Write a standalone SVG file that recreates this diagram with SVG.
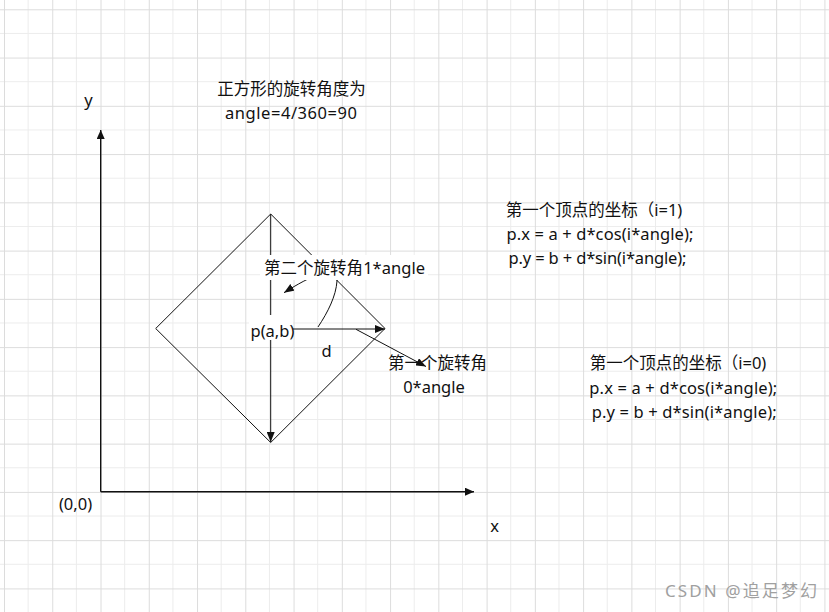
<svg xmlns="http://www.w3.org/2000/svg" width="829" height="612" viewBox="0 0 829 612">
  <style>
    .t { font-family: "Noto Sans", "Noto Sans CJK SC", sans-serif; font-size: 16.5px; fill: #111; }
    .c { text-anchor: middle; }
    .ln { stroke: #111; stroke-width: 1; fill: none; }
    .ax { stroke: #111; stroke-width: 1.4; fill: none; }
    .wm { font-family: "Noto Sans", "Noto Sans CJK SC", sans-serif; font-size: 17px; fill: #a0a0a0; }
  </style>
  <defs>
    <pattern id="grid" patternUnits="userSpaceOnUse" x="4" y="9.3" width="48.26" height="48.26">
      <path d="M24.13,0 V48.26 M0,24.13 H48.26" stroke="#ececec" stroke-width="1" fill="none"/>
      <path d="M0.5,0 V48.26 M0,0.5 H48.26" stroke="#dcdcdc" stroke-width="1" fill="none"/>
    </pattern>
    <marker id="arr" viewBox="0 0 10 8" refX="10" refY="4" markerWidth="10" markerHeight="8" orient="auto" markerUnits="userSpaceOnUse">
      <path d="M0,0 L10,4 L0,8 z" fill="#111"/>
    </marker>
    <marker id="arrA" viewBox="0 0 9 8" refX="9" refY="4" markerWidth="9" markerHeight="8" orient="auto" markerUnits="userSpaceOnUse">
      <path d="M0,0 L9,4 L0,8 z" fill="#111"/>
    </marker>
  </defs>
  <rect x="0" y="0" width="829" height="612" fill="#ffffff"/>
  <rect x="0" y="0" width="829" height="612" fill="url(#grid)"/>

  <g id="axes">
    <path class="ax" d="M100.7,491.7 V130" marker-end="url(#arrA)"/>
    <path class="ax" d="M100.7,491.7 H474" marker-end="url(#arrA)"/>
  </g>

  <g id="square">
    <path class="ln" d="M270.7,214 L385,328.5 L270.7,442.5 L155.7,328.5 Z"/>
  </g>

  <g id="connectors">
    <path class="ln" d="M270.7,214 V442" marker-end="url(#arr)"/>
    <path class="ln" d="M293,329 H385" marker-end="url(#arr)"/>
    <path class="ln" d="M318,327 C328,312 336,296 337,281 C338,266 320,270 284,292.7" marker-end="url(#arr)"/>
  </g>

  <g id="label-second-angle">
    <rect x="260" y="255" width="168" height="25" fill="#ffffff"/>
    <text class="t" x="264" y="274" textLength="161" lengthAdjust="spacing">第二个旋转角1*angle</text>
  </g>

  <g id="label-center">
    <rect x="249" y="315" width="44" height="25" fill="#ffffff"/>
    <text class="t" x="250.5" y="336.5">p(a,b)</text>
  </g>

  <g id="label-d">
    <text class="t c" x="326.7" y="356.5">d</text>
  </g>

  <g id="label-first-angle">
    <text class="t c" x="437.5" y="369">第一个旋转角</text>
    <text class="t c" x="434" y="393">0*angle</text>
  </g>

  <g id="connector-first">
    <path class="ln" d="M356,329.3 L426,366.5" marker-end="url(#arr)"/>
  </g>

  <g id="title">
    <text class="t c" x="291.5" y="95">正方形的旋转角度为</text>
    <text class="t c" x="291" y="118.5" textLength="132" lengthAdjust="spacing">angle=4/360=90</text>
  </g>

  <g id="axis-labels">
    <text class="t c" x="88.5" y="105.5">y</text>
    <text class="t c" x="494.5" y="531.5">x</text>
    <text class="t c" x="75.5" y="509.5">(0,0)</text>
  </g>

  <g id="formula-i1">
    <text class="t c" x="594" y="215.5">第一个顶点的坐标（i=1)</text>
    <text class="t c" x="600" y="239.5" textLength="187" lengthAdjust="spacing">p.x = a + d*cos(i*angle);</text>
    <text class="t c" x="597.5" y="263.5" textLength="178" lengthAdjust="spacing">p.y = b + d*sin(i*angle);</text>
  </g>

  <g id="formula-i0">
    <text class="t c" x="678" y="368.5">第一个顶点的坐标（i=0)</text>
    <text class="t c" x="683.3" y="393.5" textLength="188" lengthAdjust="spacing">p.x = a + d*cos(i*angle);</text>
    <text class="t c" x="684.2" y="418" textLength="185" lengthAdjust="spacing">p.y = b + d*sin(i*angle);</text>
  </g>

  <text class="wm" x="665" y="597" textLength="152" lengthAdjust="spacing">CSDN @追足梦幻</text>
</svg>
